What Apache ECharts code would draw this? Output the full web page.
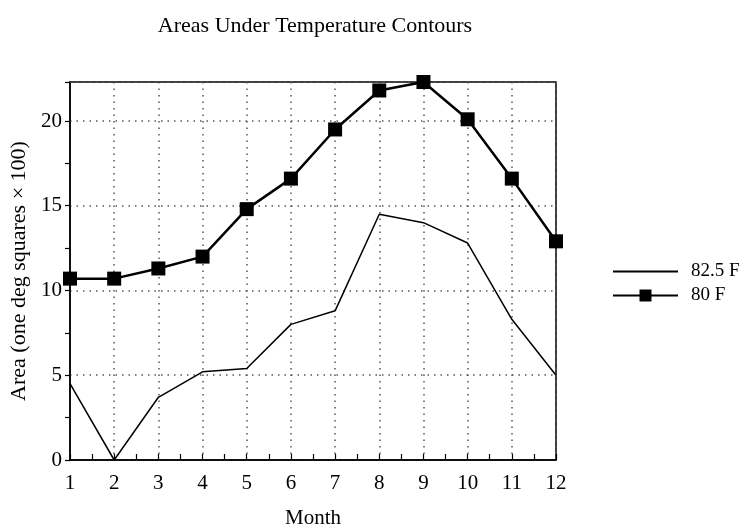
<!DOCTYPE html>
<html><head><meta charset="utf-8">
<script src="https://cdn.jsdelivr.net/npm/echarts@6/dist/echarts.min.js"></script>
<style>html,body{margin:0;padding:0;background:#fff}#c{width:747px;height:524px}</style>
</head><body><div id="c"></div>
<script>
var months = [1,2,3,4,5,6,7,8,9,10,11,12];
var s825 = [4.5,0,3.7,5.2,5.4,8.0,8.8,14.5,14.0,12.8,8.3,5.0];
var s80 = [10.7,10.7,11.3,12.0,14.8,16.6,19.5,21.8,22.3,20.1,16.6,12.9];
var yTicks = [0,5,10,15,20];
var font = '"Liberation Serif", "Times New Roman", serif';
function pairs(v){return months.map(function(m,i){return [m,v[i]];});}
var chart = echarts.init(document.getElementById('c'));
chart.setOption({
  animation:false,
  backgroundColor:'#fff',
  title:{text:'Areas Under Temperature Contours',left:310,textAlign:'center',top:10,
    textStyle:{fontFamily:font,fontSize:22,fontWeight:'normal',color:'#000'}},
  grid:{left:70,right:191,top:82,bottom:64,outerBoundsMode:'none',containLabel:false,
    show:true,borderColor:'#000',borderWidth:1.5,backgroundColor:'transparent'},
  legend:{orient:'vertical',left:607,top:257,itemWidth:65,itemHeight:15,itemGap:5,
    textStyle:{fontFamily:font,fontSize:19,color:'#000',padding:[0,0,0,8]},
    data:[{name:'82.5 F',itemStyle:{opacity:0}},{name:'80 F'}]},
  xAxis:{type:'value',min:1,max:12,interval:1,
    name:'Month',nameLocation:'middle',nameGap:48,
    nameTextStyle:{fontFamily:font,fontSize:21,color:'#000'},
    axisLine:{lineStyle:{color:'#000',width:1.5}},
    axisTick:{inside:true,length:6,lineStyle:{color:'#000',width:1.2}},
    minorTick:{show:true,splitNumber:2,length:6,lineStyle:{color:'#000',width:1.2}},
    axisLabel:{fontFamily:font,fontSize:21,color:'#000',margin:13},
    splitLine:{show:true,lineStyle:{color:'#555',type:[1.5,5],width:1.5}}},
  yAxis:{type:'value',min:0,max:22.3,interval:5,
    name:'Area (one deg squares × 100)',nameLocation:'middle',nameGap:39,
    nameTextStyle:{fontFamily:font,fontSize:22,color:'#000'},
    axisLine:{show:true,lineStyle:{color:'#000',width:1.5}},
    axisTick:{show:true,inside:false,length:5,lineStyle:{color:'#000',width:1.2}},
    minorTick:{show:true,splitNumber:2,length:5,lineStyle:{color:'#000',width:1.2}},
    axisLabel:{fontFamily:font,fontSize:21,color:'#000',margin:8,
      formatter:function(v){return yTicks.indexOf(v)>=0?String(v):'';}},
    splitLine:{show:true,lineStyle:{color:'#555',type:[1.5,5],width:1.5}}},
  series:[
    {name:'82.5 F',type:'line',data:pairs(s825),symbol:'none',
      lineStyle:{color:'#000',width:1.5},itemStyle:{color:'#000'}},
    {name:'80 F',type:'line',data:pairs(s80),symbol:'rect',symbolSize:14,
      lineStyle:{color:'#000',width:2.5},itemStyle:{color:'#000'}}
  ]
});
</script></body></html>
